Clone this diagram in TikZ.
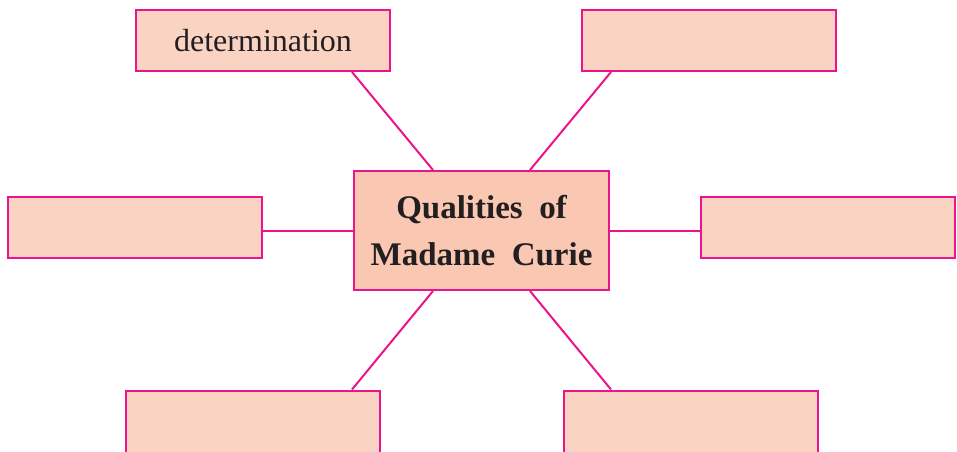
\documentclass[tikz,border=0pt]{standalone}
\usepackage{fontspec}
\setmainfont{Liberation Serif}
\usepackage{xcolor}
\definecolor{peach}{HTML}{FBD3C2}
\definecolor{peachdark}{HTML}{F9C7B2}
\definecolor{rim}{HTML}{EC148C}
\definecolor{ink}{HTML}{231F20}
\tikzset{
  qbox/.style={draw=rim, fill=peach, line width=1pt, minimum width=127pt, minimum height=30.5pt, inner sep=0pt, text=ink, font=\fontsize{16}{19}\selectfont},
  hub/.style={draw=rim, fill=peachdark, line width=1pt, minimum width=127.5pt, minimum height=59.5pt, inner sep=0pt, align=center, text=ink, font=\fontsize{16.5}{23.5}\selectfont\bfseries},
  link/.style={draw=rim, line width=1pt}
}
\begin{document}
\begin{tikzpicture}[x=0.5pt,y=-0.5pt]
\clip (0,0) rectangle (957,451);
%boxes
\node[hub] (ctr) at (481.5,230.5) {Qualities\ \ of\\Madame\ \ Curie};
\node[qbox] (tl) at (263,40.5) {determination};
\node[qbox] (tr) at (708.5,40.5) {};
\node[qbox] (ml) at (135,227) {};
\node[qbox] (mr) at (828,227) {};
\node[qbox, minimum height=40pt] (bl) at (253,430.5) {};
\node[qbox, minimum height=40pt] (br) at (691,430.5) {};
%links
\draw[link] ([xshift=44.5pt]tl.south) -- ([xshift=-24.25pt]ctr.north);
\draw[link] ([xshift=-48.75pt]tr.south) -- ([xshift=24.25pt]ctr.north);
\draw[link] (ctr.west) -- (ctr.west -| ml.east);
\draw[link] (ctr.east) -- (ctr.east -| mr.west);
\draw[link] ([xshift=-24.25pt]ctr.south) -- ([xshift=49.5pt]bl.north);
\draw[link] ([xshift=24.25pt]ctr.south) -- ([xshift=-40pt]br.north);
\end{tikzpicture}
\end{document}
